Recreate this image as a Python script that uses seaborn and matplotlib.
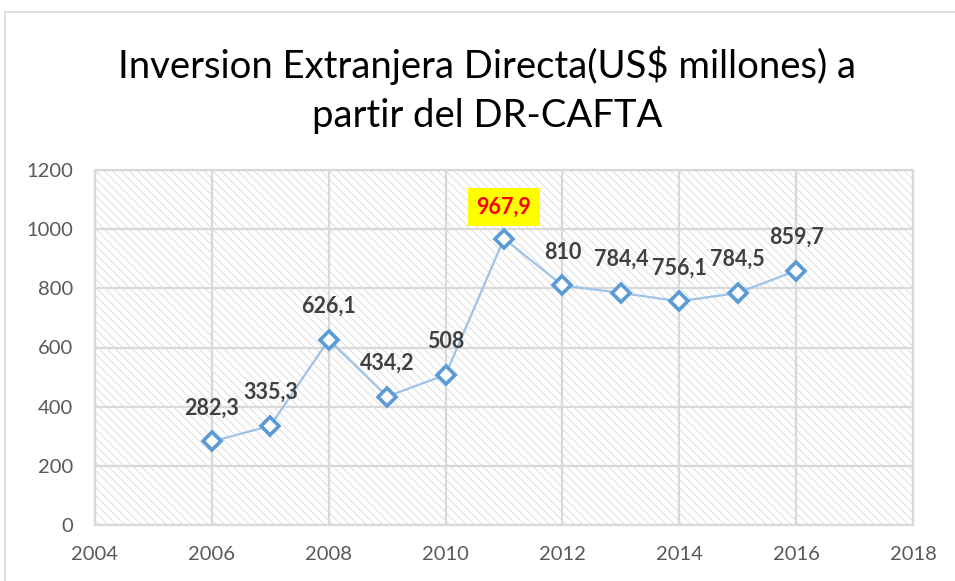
import matplotlib
matplotlib.use("Agg")
import matplotlib.pyplot as plt
import seaborn as sns
import pandas as pd
from matplotlib.patches import Rectangle
from matplotlib.lines import Line2D

years = [2006, 2007, 2008, 2009, 2010, 2011, 2012, 2013, 2014, 2015, 2016]
values = [282.3, 335.3, 626.1, 434.2, 508, 967.9, 810, 784.4, 756.1, 784.5, 859.7]
labels = ["282,3", "335,3", "626,1", "434,2", "508", "967,9", "810", "784,4", "756,1", "784,5", "859,7"]
title = "Inversion Extranjera Directa(US$ millones) a\npartir del DR-CAFTA"
xticks = [2004, 2006, 2008, 2010, 2012, 2014, 2016, 2018]
yticks = [0, 200, 400, 600, 800, 1000, 1200]

sns.set_style("white")
plt.rcParams['font.family'] = ['Lato', 'DejaVu Sans']
plt.rcParams['hatch.linewidth'] = 0.6
plt.rcParams['hatch.color'] = '#d9d9d9'

fig = plt.figure(figsize=(9.55, 5.81), dpi=100)
ax = fig.add_axes([95/955, 1 - 525/581, (913-95)/955, (525-170)/581])

df = pd.DataFrame({"year": years, "value": values})

# hatched background
ax.add_patch(Rectangle((0, 0), 1, 1, transform=ax.transAxes, facecolor='white',
                       edgecolor='#d9d9d9', hatch='\\\\\\\\', lw=0, zorder=0))

sns.lineplot(data=df, x="year", y="value", ax=ax, color='#9DC3E6', lw=1.6,
             marker='D', markersize=9.5, markerfacecolor='white',
             markeredgecolor='#5B9BD5', markeredgewidth=2.6, zorder=5)

ax.set_xlim(2004, 2018)
ax.set_ylim(0, 1200)
ax.set_xticks(xticks)
ax.set_yticks(yticks)
ax.set_xlabel("")
ax.set_ylabel("")
ax.grid(True, color='#d9d9d9', lw=1.6, zorder=1)
ax.set_axisbelow(True)
for s in ax.spines.values():
    s.set_color('#d9d9d9')
    s.set_linewidth(1.6)
ax.tick_params(axis='both', length=0, labelsize=14.5, labelcolor='#595959')
ax.tick_params(axis='x', pad=15)
ax.tick_params(axis='y', pad=16)

for x, y, t in zip(years, values, labels):
    if t == "967,9":
        ax.annotate(t, (x, y), xytext=(0, 23), textcoords='offset points',
                    ha='center', va='center', fontsize=15.5, fontweight='bold',
                    color='#FF0000', zorder=10,
                    bbox=dict(boxstyle='square,pad=0.4', facecolor='#FFFF00', edgecolor='none'))
    else:
        ax.annotate(t, (x, y), xytext=(0, 24), textcoords='offset points',
                    ha='center', va='center', fontsize=15.5, fontweight='bold',
                    color='#404040', zorder=10)

fig.text(487/955, 1 - 90/581, title, ha='center', va='center', fontsize=27.5,
         color='#000000', linespacing=1.48)

fig.add_artist(Line2D([5/955, 5/955], [0, 1 - 12/581], transform=fig.transFigure,
                      color='#d9d9d9', lw=1.2))
fig.add_artist(Line2D([5/955, 1], [1 - 12/581, 1 - 12/581], transform=fig.transFigure,
                      color='#d9d9d9', lw=1.2))

fig.savefig("out.png", dpi=100)
